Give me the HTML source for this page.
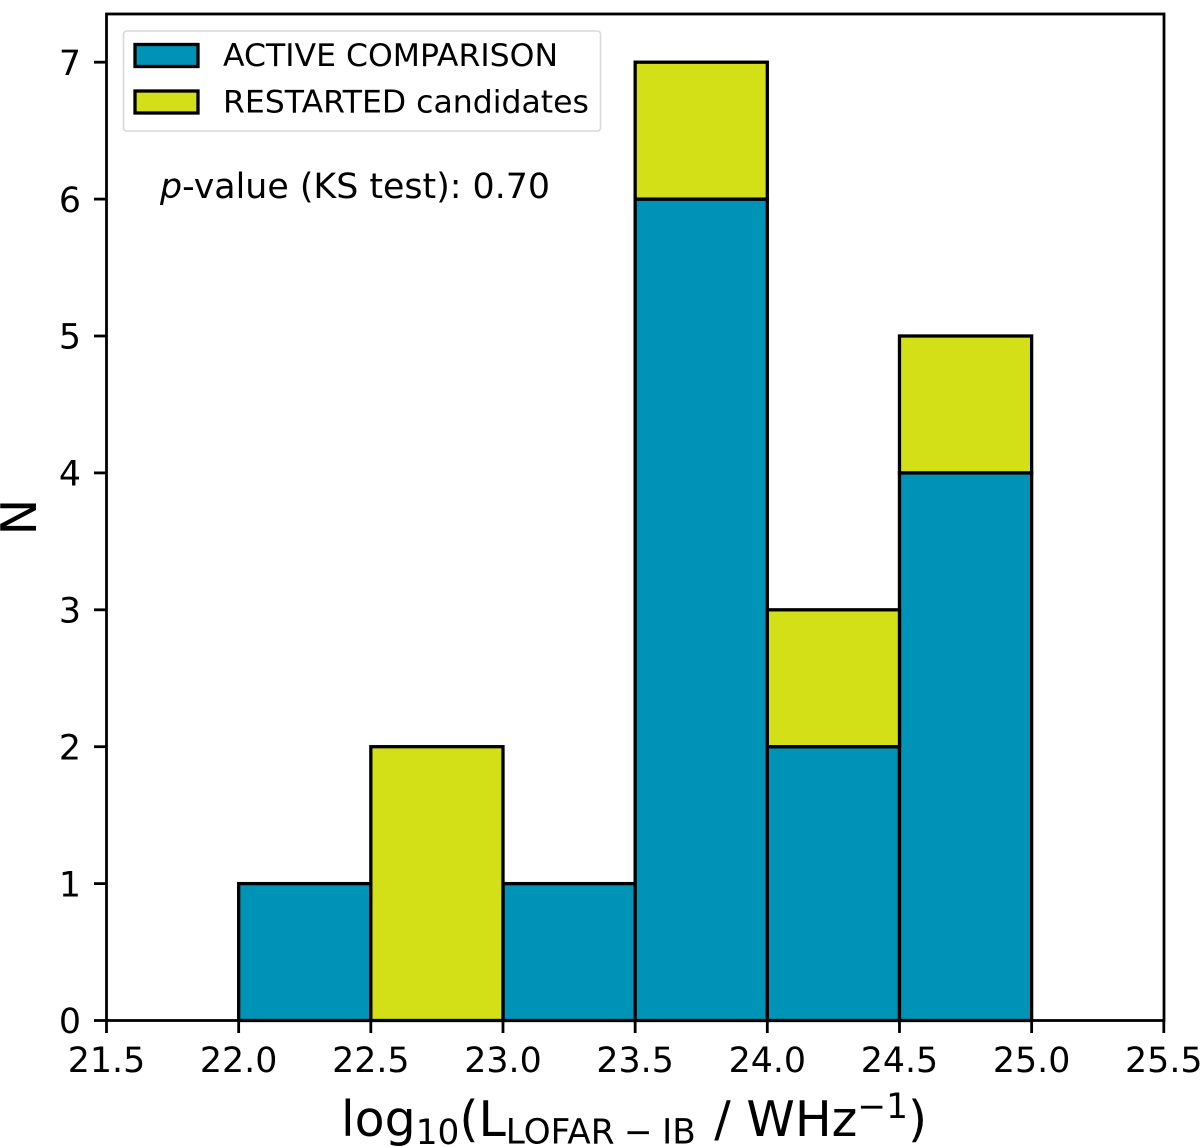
<!DOCTYPE html>
<html>
<head>
<meta charset="utf-8">
<style>
html,body{margin:0;padding:0;background:#fff;}
svg{display:block;}
text{font-family:"DejaVu Sans","Liberation Sans",sans-serif;fill:#000;}
</style>
</head>
<body>
<svg id="chart" xmlns="http://www.w3.org/2000/svg" width="1200" height="1147" viewBox="0 0 1200 1147">
  <rect x="0" y="0" width="1200" height="1147" fill="#fff"/>
  <g id="bars"></g>
  <g id="xticks"></g>
  <g id="yticks"></g>
  <rect x="106.5" y="14" width="1057.5" height="1006.5" fill="none" stroke="#000" stroke-width="2.8"/>

  <g>
    <rect x="123.5" y="31" width="477" height="100" rx="3" fill="#fff" fill-opacity="0.8" stroke="#d9d9d9" stroke-width="1.6"/>
    <rect x="135" y="44.5" width="63" height="22" fill="#0093b8" stroke="#000" stroke-width="3.3"/>
    <text x="223" y="66" font-size="31.5">ACTIVE COMPARISON</text>
    <rect x="135" y="91" width="63" height="22" fill="#d4e017" stroke="#000" stroke-width="3.3"/>
    <text x="223" y="112.5" font-size="31.5">RESTARTED candidates</text>
  </g>

  <text x="160" y="198" font-size="34.8"><tspan font-style="italic">p</tspan>-value (KS test): 0.70</text>

  <text transform="translate(36,517) rotate(-90)" text-anchor="middle" font-size="49">N</text>

  <text x="341" y="1136" font-size="49">log<tspan font-size="34.3" dy="8">10</tspan><tspan dy="-8">(L</tspan><tspan font-size="34.3" dy="7.5" style="word-spacing:-1.5px">LOFAR &#8722; IB</tspan><tspan dy="-7.5" dx="3"> / WHz</tspan><tspan font-size="34.3" dy="-18">&#8722;1</tspan><tspan dy="18">)</tspan></text>
</svg>
<script>
var binEdges = [22.0, 22.5, 23.0, 23.5, 24.0, 24.5, 25.0];
var activeCounts = [1, 0, 1, 6, 2, 4];
var restartedCounts = [0, 2, 0, 1, 1, 1];
var xTickLabels = ["21.5", "22.0", "22.5", "23.0", "23.5", "24.0", "24.5", "25.0", "25.5"];
var yTickLabels = ["0", "1", "2", "3", "4", "5", "6", "7"];

var NS = 'http://www.w3.org/2000/svg';
var xMin = 21.5, xMax = 25.5, yMin = 0, yMax = 7;
function xScale(v) { return 106.5 + (v - xMin) / (xMax - xMin) * (1163.8 - 106.5); }
function yScale(v) { return 1020.5 - (v - yMin) / (yMax - yMin) * (1020.5 - 62.2); }

function drawBar(group, i, base, count, color, name) {
  if (count <= 0) return;
  var r = document.createElementNS(NS, 'rect');
  r.setAttribute('x', xScale(binEdges[i]));
  r.setAttribute('y', yScale(base + count));
  r.setAttribute('width', xScale(binEdges[i + 1]) - xScale(binEdges[i]));
  r.setAttribute('height', yScale(base) - yScale(base + count));
  r.setAttribute('fill', color);
  r.setAttribute('stroke', '#000');
  r.setAttribute('stroke-width', '3.3');
  
  
  group.appendChild(r);
}

var barsGroup = document.getElementById('bars');
activeCounts.forEach(function (c, i) {
  drawBar(barsGroup, i, 0, c, '#0093b8', 'bar-active-bin-' + (i + 1));
});
restartedCounts.forEach(function (c, i) {
  drawBar(barsGroup, i, activeCounts[i], c, '#d4e017', 'bar-restarted-bin-' + (i + 1));
});

var xGroup = document.getElementById('xticks');
xTickLabels.forEach(function (label) {
  var x = xScale(parseFloat(label));
  var l = document.createElementNS(NS, 'line');
  l.setAttribute('x1', x);
  l.setAttribute('x2', x);
  l.setAttribute('y1', 1020.5);
  l.setAttribute('y2', 1033);
  l.setAttribute('stroke', '#000');
  l.setAttribute('stroke-width', '2.8');
  
  
  xGroup.appendChild(l);
  var t = document.createElementNS(NS, 'text');
  t.setAttribute('x', x);
  t.setAttribute('y', 1072);
  t.setAttribute('text-anchor', 'middle');
  t.setAttribute('font-size', '34.8');
  
  
  t.textContent = label;
  xGroup.appendChild(t);
});

var yGroup = document.getElementById('yticks');
yTickLabels.forEach(function (label) {
  var y = yScale(parseFloat(label));
  var l = document.createElementNS(NS, 'line');
  l.setAttribute('x1', 94);
  l.setAttribute('x2', 106.5);
  l.setAttribute('y1', y);
  l.setAttribute('y2', y);
  l.setAttribute('stroke', '#000');
  l.setAttribute('stroke-width', '2.8');
  
  
  yGroup.appendChild(l);
  var t = document.createElementNS(NS, 'text');
  t.setAttribute('x', 81);
  t.setAttribute('y', y + 12.7);
  t.setAttribute('text-anchor', 'end');
  t.setAttribute('font-size', '34.8');
  
  
  t.textContent = label;
  yGroup.appendChild(t);
});
</script>
</body>
</html>
